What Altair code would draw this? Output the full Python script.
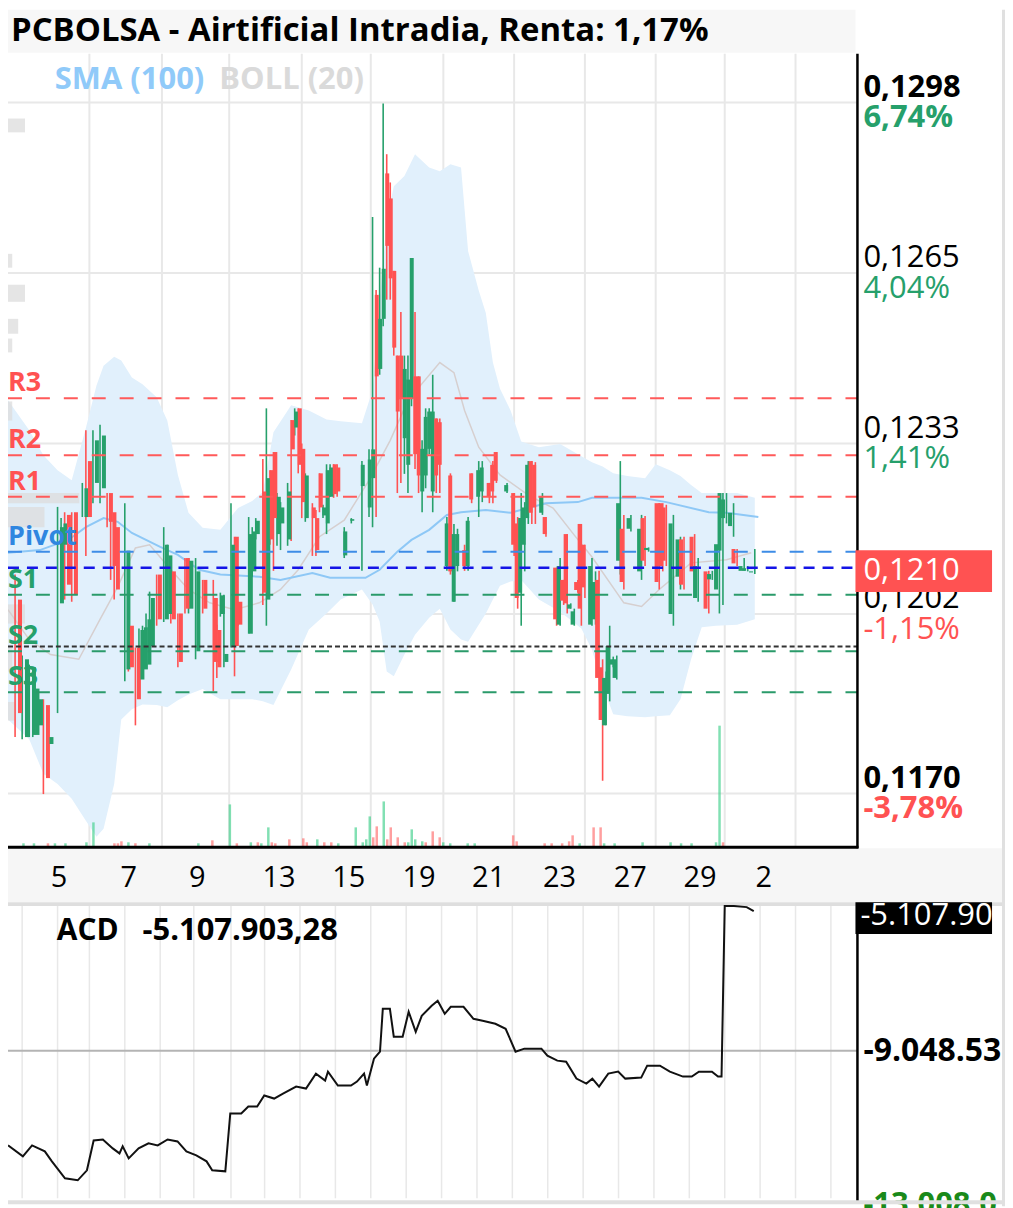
import altair as alt
import pandas as pd

FONT = "Open Sans"
GREEN = "#26a06b"
RED = "#ff5252"

title_text = "PCBOLSA - Airtificial Intradia, Renta: 1,17%"

# ---------------- candles (bar index, ~10 bars per trading day) ----------------
c_bar = [2, 4, 6, 7, 8, 10, 11, 14, 15, 16,
         18, 21, 22, 24, 26, 28, 29, 30, 33, 34,
         36, 37, 38, 39, 40, 42, 44, 45, 46, 48,
         50, 51, 53, 55, 58, 59, 60, 61, 63, 64,
         65, 68, 69, 70, 72, 73, 74, 75, 76, 77,
         79, 80, 81, 82, 83, 84, 86, 87, 88, 89,
         90, 91, 92, 93, 95, 97, 100, 102, 103, 104,
         105, 106, 107, 108, 109, 110, 111, 112, 113, 114,
         115, 116, 117, 118, 119, 120, 121, 122, 124, 125,
         126, 127, 129, 130, 131, 133, 134, 136, 137, 138,
         141, 143, 144, 145, 146, 147, 148, 149, 151, 152,
         155, 156, 157, 158, 159, 160, 161, 162, 163, 165,
         166, 167, 168, 169, 170, 171, 172, 173, 174, 176,
         179, 180, 181, 184, 185, 186, 188, 190, 191, 194,
         195, 198, 199, 201, 202, 203, 205, 206, 208, 209,
         211]
c_open = [.12047, .11789, .11793, .11793, .11811, .11849, .11776, .12040, .12150, .12206,
          .12211, .12202, .12307, .12266, .12256, .12247, .12211, .12183, .11916, .11998,
          .11957, .11897, .11916, .11925, .11960, .12094, .12010, .12020, .12100, .12021,
          .12125, .12030, .11950, .12084, .12050, .11990, .12020, .11930, .11960, .12165,
          .12043, .11983, .12100, .12170, .12250, .12047, .12290, .12324, .12170, .12190,
          .12160, .12384, .12370, .12406, .12330, .12200, .12220, .12200, .12284, .12205,
          .12190, .12240, .12301, .12295, .12130, .12195, .12260, .12220, .12275, .12619,
          .12480, .12574, .12847, .12800, .12664, .12505, .12505, .12350, .12300, .12424,
          .12466, .12466, .12250, .12280, .12330, .12250, .12387, .12380, .12110, .12280,
          .12043, .12110, .12140, .12110, .12284, .12240, .12250, .12266, .12300, .12324,
          .12250, .12247, .12190, .12060, .12150, .12200, .12307, .12300, .12210, .12202,
          .12107, .12000, .12084, .12170, .12030, .12000, .12080, .12189, .12150, .12000,
          .12010, .12084, .11920, .11811, .11870, .11925, .11900, .12120, .12180, .12180,
          .12100, .12200, .12140, .12228, .12228, .12220, .12020, .12090, .12160, .12165,
          .12050, .12100, .12085, .12066, .12139, .12200, .12185, .12142, .12101, .12101,
          .12098]
c_high = [.12094, .11942, .11925, .11894, .11875, .11860, .11793, .12221, .12200, .12211,
          .12211, .12266, .12365, .12365, .12375, .12247, .12211, .12183, .12228, .11998,
          .11957, .11993, .11998, .12021, .12062, .12094, .12183, .12150, .12105, .12021,
          .12125, .12125, .12125, .12084, .12084, .12000, .12060, .12056, .12228, .12165,
          .12043, .12202, .12183, .12200, .12311, .12406, .12290, .12324, .12247, .12230,
          .12266, .12384, .12406, .12406, .12340, .12284, .12228, .12215, .12284, .12225,
          .12301, .12301, .12301, .12301, .12183, .12200, .12307, .12329, .12765, .12628,
          .12670, .12978, .12883, .12830, .12664, .12505, .12587, .12505, .12505, .12688,
          .12587, .12466, .12346, .12406, .12406, .12469, .12387, .12387, .12202, .12284,
          .12189, .12180, .12150, .12202, .12284, .12307, .12307, .12266, .12307, .12324,
          .12266, .12247, .12202, .12247, .12230, .12307, .12307, .12305, .12247, .12202,
          .12107, .12125, .12084, .12170, .12040, .12030, .12084, .12189, .12150, .12125,
          .12100, .12101, .11935, .11912, .11998, .11940, .11942, .12307, .12206, .12206,
          .12206, .12204, .12145, .12228, .12228, .12225, .12206, .12165, .12165, .12170,
          .12125, .12101, .12101, .12202, .12247, .12247, .12228, .12142, .12125, .12110,
          .12142]
c_low = [.11789, .11785, .11789, .11789, .11809, .11682, .11766, .11834, .12120, .12047,
         .12043, .12202, .12129, .12228, .12228, .12183, .12084, .12047, .11894, .11912,
         .11811, .11890, .11905, .11920, .11957, .11998, .12005, .12020, .12002, .11920,
         .12021, .12021, .11935, .12021, .11875, .11900, .12015, .11920, .11957, .11903,
         .11998, .11983, .12090, .12160, .12037, .11998, .12150, .12101, .12148, .12140,
         .12148, .12157, .12355, .12284, .12200, .12193, .12129, .12129, .12211, .12200,
         .12170, .12240, .12238, .12240, .12125, .12190, .12101, .12202, .12183, .12202,
         .12469, .12560, .12610, .12610, .12505, .12247, .12266, .12283, .12247, .12410,
         .12292, .12247, .12211, .12256, .12320, .12211, .12247, .12247, .12101, .12094,
         .12043, .12100, .12101, .12101, .12228, .12202, .12230, .12228, .12228, .12266,
         .12247, .12129, .12030, .11998, .12100, .12189, .12189, .12189, .12206, .12165,
         .11998, .11998, .12037, .12021, .12030, .11998, .12060, .11998, .12050, .11998,
         .12000, .11875, .11707, .11811, .11856, .11920, .11897, .12094, .12066, .12175,
         .12084, .12110, .12137, .12066, .12100, .12110, .11998, .12066, .12066, .12090,
         .12043, .12021, .12084, .12021, .12037, .12190, .12165, .12110, .12101, .12100,
         .12095]
c_close = [.11834, .11935, .11920, .11880, .11860, .11712, .11789, .12183, .12190, .12075,
           .12056, .12256, .12202, .12346, .12355, .12193, .12110, .12066, .12139, .11920,
           .11860, .11990, .11995, .12010, .12050, .12010, .12150, .12130, .12010, .11930,
           .12030, .12120, .12100, .12030, .11930, .11920, .12055, .11945, .12150, .11960,
           .12000, .12170, .12175, .12195, .12060, .12275, .12160, .12200, .12240, .12220,
           .12250, .12329, .12400, .12300, .12230, .12280, .12200, .12140, .12220, .12220,
           .12290, .12295, .12245, .12250, .12175, .12198, .12300, .12310, .12329, .12466,
           .12574, .12668, .12711, .12650, .12520, .12400, .12424, .12480, .12460, .12688,
           .12320, .12280, .12330, .12390, .12400, .12400, .12280, .12300, .12190, .12100,
           .12170, .12170, .12110, .12195, .12235, .12290, .12295, .12240, .12250, .12270,
           .12262, .12150, .12050, .12200, .12220, .12300, .12210, .12220, .12240, .12170,
           .12010, .12110, .12045, .12040, .12038, .12025, .12065, .12030, .12070, .12110,
           .12080, .11900, .11821, .11900, .11960, .11935, .11935, .12228, .12080, .12200,
           .12180, .12120, .12144, .12080, .12110, .12120, .12190, .12160, .12075, .12100,
           .12110, .12030, .12095, .12151, .12247, .12235, .12210, .12115, .12110, .12106,
           .12100]

# ---------------- volume ----------------
v_bar = [3, 6, 10, 12, 15, 21, 23, 29, 30, 31,
         33, 35, 39, 53, 57, 62, 64, 68, 70, 71,
         73, 74, 75, 79, 83, 84, 87, 89, 91, 93,
         98, 100, 101, 102, 103, 104, 106, 107, 108, 110,
         112, 113, 114, 115, 117, 118, 120, 122, 123, 125,
         130, 132, 143, 144, 152, 154, 157, 159, 160, 162,
         166, 168, 169, 172, 180, 188, 191, 194, 201, 202,
         203]
v_val = [160, 160, 160, 160, 160, 200, 1000, 160, 160, 240,
         200, 160, 160, 160, 280, 1720, 160, 200, 200, 160,
         800, 200, 160, 320, 360, 200, 320, 200, 200, 160,
         800, 200, 320, 1240, 400, 840, 1840, 320, 800, 400,
         200, 200, 720, 320, 240, 200, 640, 400, 200, 160,
         160, 160, 480, 240, 160, 160, 160, 240, 480, 160,
         800, 800, 160, 160, 200, 200, 160, 160, 200, 4880,
         200]
v_dir = ["up", "up", "down", "up", "up", "up", "up", "down", "down", "down",
         "up", "down", "up", "up", "down", "up", "down", "up", "down", "up",
         "up", "down", "down", "down", "down", "down", "up", "down", "down", "up",
         "up", "up", "up", "up", "down", "down", "up", "down", "down", "down",
         "down", "up", "up", "up", "up", "down", "down", "down", "up", "up",
         "up", "up", "down", "down", "down", "down", "down", "down", "down", "up",
         "down", "down", "up", "up", "up", "up", "up", "up", "up", "up",
         "down"]

# ---------------- Bollinger band ----------------
b_bar = [0, 6, 10, 14, 18, 22, 25, 27, 30, 32, 35, 38, 42, 45, 48, 51, 55, 60, 65, 69,
         72, 75, 80, 85, 90, 94, 100, 103, 105, 107, 109, 112, 115, 119, 122, 125, 128, 130, 133, 135,
         137, 139, 142, 145, 150, 156, 162, 165, 168, 171, 175, 180, 183, 187, 190, 193, 196, 200, 206, 211]
b_upper = [.12421, .12365, .12318, .12290, .12271, .12369, .12449, .12486, .12503, .12496,
           .12464, .12451, .12427, .12383, .12281, .12210, .12182, .12178, .12219, .12232,
           .12249, .12361, .12412, .12402, .12385, .12382, .12378, .12440, .12608, .12757,
           .12823, .12842, .12883, .12858, .12851, .12864, .12858, .12701, .12627, .12585,
           .12492, .12443, .12402, .12344, .12333, .12339, .12316, .12305, .12297, .12284,
           .12279, .12275, .12301, .12290, .12279, .12262, .12247, .12247, .12247, .12238]
b_lower = [.11822, .11785, .11720, .11701, .11673, .11632, .11602, .11617, .11701, .11822,
           .11841, .11850, .11849, .11845, .11858, .11869, .11879, .11860, .11860, .11860,
           .11856, .11849, .11916, .11991, .12021, .12047, .12066, .12038, .12006, .11912,
           .11903, .11944, .11981, .12013, .12030, .11991, .11972, .11968, .12000, .12021,
           .12047, .12073, .12081, .12084, .12047, .12024, .11993, .11953, .11884, .11832,
           .11828, .11826, .11828, .11830, .11860, .11935, .11995, .11998, .12000, .12010]
m_bar = [0, 6, 12, 20, 26, 31, 36, 40, 46, 51, 57, 64, 71, 77, 82, 88, 95, 102, 108, 113,
         122, 126, 129, 133, 139, 147, 154, 160, 165, 174, 179, 184, 193, 203, 210]
m_val = [.12028, .11972, .11944, .11935, .12010, .12071, .12144, .12150, .12103, .12066,
         .12041, .12028, .12041, .12066, .12103, .12165, .12196, .12271, .12346, .12421,
         .12492, .12473, .12402, .12333, .12281, .12243, .12219, .12168, .12127, .12041,
         .12034, .12066, .12116, .12122, .12135]

# ---------------- SMA (100) ----------------
s_bar = [0, 9, 17, 22, 27, 31, 35, 43, 48, 54, 60, 71, 77, 86, 91, 101, 105, 110, 114, 119,
         124, 128, 135, 142, 152, 161, 165, 179, 186, 198, 203, 212]
s_val = [.12135, .12140, .12159, .12183, .12200, .12193, .12172, .12146, .12131, .12103,
         .12094, .12090, .12084, .12097, .12088, .12088, .12103, .12137, .12159, .12178,
         .12206, .12211, .12215, .12210, .12228, .12230, .12238, .12238, .12230, .12211,
         .12210, .12202]

# ---------------- volume-by-price profile (left edge) ----------------
p_top = [.12950, .12696, .12638, .12574, .12537, .12419, .12247, .12221, .12038, .11957, .11855]
p_bot = [.12924, .12670, .12606, .12546, .12511, .12383, .12228, .12183, .12002, .11912, .11820]
p_vol = [20, 5, 20, 12, 5, 5, 84, 43, 20, 5, 8]

# ---------------- pivot levels ----------------
lvl_names = ["R3", "R2", "R1", "Pivot", "S1", "S2", "S3"]
lvl_vals = [0.12425, 0.12318, 0.12240, 0.12137, 0.12056, 0.11950, 0.11873]
lvl_kind = ["R", "R", "R", "P", "S", "S", "S"]
last_line = 0.12107
black_line = 0.11959
last_price_label = "0,1210"

# ---------------- axes ----------------
grid_price = [0.1298, 0.1266, 0.1234, 0.1202, 0.11683]
price_labels = ["0,1298", "0,1265", "0,1233", "0,1202", "0,1170"]
pct_labels = ["6,74%", "4,04%", "1,41%", "-1,15%", "-3,78%"]
label_bold = [True, False, False, False, True]
day_labels = ["5", "7", "9", "13", "15", "19", "21", "23", "27", "29", "2"]
day_pos = [14.4, 34.1, 53.5, 76.6, 96.3, 116.1, 135.8, 155.8, 175.8, 195.5, 213.5]
grid_x_main = [23, 43.5, 62.5, 83, 102.5, 123, 143, 163, 183, 202.5, 222.5]
grid_x_acd = [4, 14, 23, 33, 43, 52.5, 63, 72.5, 82.5, 92.5, 102.5, 112.5, 122.5, 132.5,
              142.5, 152.5, 162.5, 172.5, 182.5, 192.5, 202.5, 212.5, 222.5, 232.5]

# ---------------- ACD (millions) ----------------
acd_bar = [0, 4.2, 6.8, 10.4, 12.4, 16.1, 19.7, 22.3, 24.2, 26.8,
           29.6, 31.5, 32.4, 34.1, 36.9, 39.7, 42.3, 45.1, 47.9, 50.4,
           53.2, 56.1, 57.7, 61.4, 62.8, 65.9, 67.9, 70.4, 72.4, 75.2,
           77.7, 81.4, 84.2, 87.0, 89.6, 90.4, 93.2, 96.9, 98.6, 100.6,
           101.4, 103.4, 105.1, 105.9, 107.9, 109.0, 111.5, 113.2, 115.2, 116.9,
           119.7, 121.4, 123.4, 125.1, 128.7, 131.5, 134.1, 137.7, 140.6, 143.4,
           145.9, 150.7, 152.4, 155.2, 157.7, 160.6, 163.4, 165.1, 167.0, 169.6,
           172.4, 174.4, 178.9, 180.6, 184.2, 187.0, 190.7, 193.2, 195.2, 198.9,
           200.6, 201.6, 202.5, 205.1, 208.7, 210.7]
acd_val = [-11.722, -12.032, -11.722, -11.891, -12.173, -12.651, -12.708, -12.426, -11.582, -11.554,
           -11.807, -11.948, -11.751, -12.088, -11.807, -11.666, -11.722, -11.554, -11.610, -11.891,
           -12.004, -12.173, -12.426, -12.454, -10.822, -10.822, -10.625, -10.625, -10.315, -10.400,
           -10.259, -10.062, -10.118, -9.696, -9.893, -9.640, -10.034, -10.034, -9.921, -9.696,
           -10.034, -9.274, -9.077, -7.866, -7.866, -8.654, -8.654, -7.951, -8.514, -8.063,
           -7.782, -7.641, -8.007, -7.810, -7.810, -8.148, -8.204, -8.289, -8.429, -9.077,
           -8.992, -8.992, -9.189, -9.330, -9.358, -9.837, -9.977, -9.837, -10.062, -9.696,
           -9.640, -9.837, -9.808, -9.471, -9.471, -9.640, -9.780, -9.780, -9.640, -9.640,
           -9.780, -9.780, -4.967, -4.967, -4.995, -5.108]
acd_mid = -9.04853
acd_top = -5.107903
acd_title = "ACD"
acd_value_text = "-5.107.903,28"
acd_mid_text = "-9.048.53"
acd_top_text = "-5.107.90"
acd_low_text = "-13.008.0"

# ======================= chart =======================
W, H = 1000, 1210
XR = [0, 852]


def X(field):
    return alt.X(field, type="quantitative",
                 scale=alt.Scale(domain=[0, 240], range=XR, nice=False, zero=False), axis=None)


def YP(field):
    return alt.Y(field, type="quantitative",
                 scale=alt.Scale(domain=[0.1202, 0.1298], range=[606, 93], nice=False, zero=False),
                 axis=None)


def YA(field):
    return alt.Y(field, type="quantitative",
                 scale=alt.Scale(domain=[acd_mid, acd_top], range=[1044, 904], nice=False, zero=False),
                 axis=None)


one = pd.DataFrame({"a": [0]})


def box(x0, x1, y0, y1, color):
    return alt.Chart(one).mark_rect(color=color).encode(
        x=alt.value(x0), x2=alt.value(x1), y=alt.value(y0), y2=alt.value(y1))


def vline(x, y0, y1, color, w):
    return alt.Chart(one).mark_rule(color=color, strokeWidth=w).encode(
        x=alt.value(x), y=alt.value(y0), y2=alt.value(y1))


def hline(y, x0, x1, color, w):
    return alt.Chart(one).mark_rule(color=color, strokeWidth=w).encode(
        y=alt.value(y), x=alt.value(x0), x2=alt.value(x1))


def label(txt, x, y, size, color, weight="normal", align="left"):
    return alt.Chart(one).mark_text(text=txt, font=FONT, fontSize=size, fontWeight=weight,
                                    color=color, align=align, baseline="middle").encode(
        x=alt.value(x), y=alt.value(y))


layers = []

# backgrounds
layers.append(box(0, 850, 0, 43, "#f7f7f7"))
layers.append(box(0, 1000, 841, 895, "#f6f6f6"))
layers.append(hline(897, 0, 1000, "#dedede", 4))

# main grid
gx = pd.DataFrame({"b": grid_x_main})
layers.append(alt.Chart(gx).mark_rule(color="#e8e8e8", strokeWidth=2).encode(
    x=X("b"), y=alt.value(44), y2=alt.value(840)))
gp = pd.DataFrame({"p": grid_price})
layers.append(alt.Chart(gp).mark_rule(color="#e8e8e8", strokeWidth=2).encode(
    y=YP("p"), x=alt.value(0), x2=alt.value(852)))

# Bollinger band
bd = pd.DataFrame({"b": b_bar, "u": b_upper, "l": b_lower})
layers.append(alt.Chart(bd).mark_area(color="#e1f0fc", opacity=1).encode(
    x=X("b"), y=YP("u"), y2=alt.Y2("l")))

# volume profile
pf = pd.DataFrame({"t": p_top, "bt": p_bot, "v": p_vol})
layers.append(alt.Chart(pf).mark_rect(color="#dcdcdc", opacity=0.75).encode(
    x=alt.X("v", type="quantitative",
            scale=alt.Scale(domain=[0, 1000], range=XR, nice=False, zero=False), axis=None),
    x2=alt.value(0),
    y=YP("t"), y2=alt.Y2("bt")))

# BOLL middle and SMA
md = pd.DataFrame({"b": m_bar, "v": m_val})
layers.append(alt.Chart(md).mark_line(color="#d6cfcf", strokeWidth=1.5).encode(x=X("b"), y=YP("v")))
sd = pd.DataFrame({"b": s_bar, "v": s_val})
layers.append(alt.Chart(sd).mark_line(color="#8ec8f6", strokeWidth=2).encode(x=X("b"), y=YP("v")))

# volume bars
vd = pd.DataFrame({"b": v_bar, "v": v_val, "d": v_dir})
layers.append(alt.Chart(vd).mark_bar(size=2.5, opacity=0.65).encode(
    x=X("b"),
    y=alt.Y("v", type="quantitative",
            scale=alt.Scale(domain=[0, 31840], range=[840, 44], nice=False), axis=None),
    color=alt.Color("d:N", scale=alt.Scale(domain=["up", "down"], range=["#3fcf8a", "#ff6b6b"]),
                    legend=None)))

# candles
cd = pd.DataFrame({"b": c_bar, "o": c_open, "h": c_high, "l": c_low, "c": c_close})
cd["hi"] = cd[["h", "o", "c"]].max(axis=1)
cd["lo"] = cd[["l", "o", "c"]].min(axis=1)
cd["d"] = ["up" if c >= o else "down" for o, c in zip(cd["o"], cd["c"])]
ccol = alt.Color("d:N", scale=alt.Scale(domain=["up", "down"], range=[GREEN, RED]), legend=None)
layers.append(alt.Chart(cd).mark_rule(strokeWidth=1.6).encode(
    x=X("b"), y=YP("lo"), y2=alt.Y2("hi"), color=ccol))
layers.append(alt.Chart(cd).mark_bar(size=4).encode(
    x=X("b"), y=YP("o"), y2=alt.Y2("c"), color=ccol))

# pivot lines
lv = pd.DataFrame({"n": lvl_names, "v": lvl_vals, "k": lvl_kind})
styles = {"R": "#ff5a5a", "P": "#3d8ce6", "S": "#2a9a6a"}
for k, col in styles.items():
    layers.append(alt.Chart(lv[lv.k == k]).mark_rule(color=col, strokeWidth=2, strokeDash=[14, 14]).encode(
        y=YP("v"), x=alt.value(0), x2=alt.value(852)))
layers.append(alt.Chart(pd.DataFrame({"v": [last_line]})).mark_rule(
    color="#1414e6", strokeWidth=2.5, strokeDash=[11, 8]).encode(y=YP("v"), x=alt.value(0), x2=alt.value(852)))
layers.append(alt.Chart(pd.DataFrame({"v": [black_line]})).mark_rule(
    color="#333333", strokeWidth=2, strokeDash=[5, 3]).encode(y=YP("v"), x=alt.value(0), x2=alt.value(852)))
lab_colors = {"R": "#ff5252", "P": "#2f86e0", "S": "#26a06b"}
for k, col in lab_colors.items():
    layers.append(alt.Chart(lv[lv.k == k]).mark_text(
        font=FONT, fontSize=27, fontWeight="bold", color=col, align="left", baseline="middle", dy=-15).encode(
        y=YP("v"), x=alt.value(0), text="n:N"))

# axis lines
layers.append(vline(852, 44, 841, "#000000", 2.5))
layers.append(hline(840, 0, 853, "#000000", 3))

# right price labels
rl = pd.DataFrame({"p": grid_price, "t": price_labels, "q": pct_labels, "bold": label_bold})
rl["qc"] = ["neg" if s.startswith("-") else "pos" for s in pct_labels]
for bold in [True, False]:
    sub = rl[rl.bold == bold]
    wgt = "bold" if bold else "normal"
    layers.append(alt.Chart(sub).mark_text(font=FONT, fontSize=31, fontWeight=wgt, color="#000000",
                                           align="left", baseline="middle", dy=-15).encode(
        x=alt.value(858), y=YP("p"), text="t:N"))
    layers.append(alt.Chart(sub).mark_text(font=FONT, fontSize=31, fontWeight=wgt,
                                           align="left", baseline="middle", dy=16).encode(
        x=alt.value(858), y=YP("p"), text="q:N",
        color=alt.Color("qc:N", scale=alt.Scale(domain=["pos", "neg"], range=["#26a06b", "#ff5252"]),
                        legend=None)))

# current price box
layers.append(box(850, 987, 542, 584, "#ff5252"))
layers.append(alt.Chart(pd.DataFrame({"v": [c_close[-1]], "t": [last_price_label]})).mark_text(
    font=FONT, fontSize=31, color="#ffffff", align="left", baseline="middle").encode(
    x=alt.value(858), y=YP("v"), text="t:N"))

# title & legend
layers.append(label(title_text, 3, 21, 33, "#000000", "bold"))
layers.append(label("SMA (100)", 47, 70, 31, "#90caf9", "bold"))
layers.append(label("BOLL (20)", 212, 70, 31, "#dadada", "bold"))

# x labels
dl = pd.DataFrame({"b": day_pos, "t": day_labels})
layers.append(alt.Chart(dl).mark_text(font=FONT, fontSize=29, color="#000000", align="center",
                                      baseline="middle").encode(x=X("b"), y=alt.value(871), text="t:N"))

# ACD panel
ga = pd.DataFrame({"b": grid_x_acd})
layers.append(alt.Chart(ga).mark_rule(color="#e8e8e8", strokeWidth=1.5).encode(
    x=X("b"), y=alt.value(899), y2=alt.value(1192)))
layers.append(alt.Chart(pd.DataFrame({"v": [acd_mid]})).mark_rule(color="#b4b4b4", strokeWidth=2).encode(
    y=YA("v"), x=alt.value(0), x2=alt.value(852)))
ad = pd.DataFrame({"b": acd_bar, "v": acd_val})
layers.append(alt.Chart(ad).mark_line(color="#111111", strokeWidth=2).encode(x=X("b"), y=YA("v")))
layers.append(vline(852, 899, 1195, "#000000", 2.5))
layers.append(label(acd_title, 49, 924, 30, "#000000", "bold"))
layers.append(label(acd_value_text, 135, 924, 31, "#000000", "bold"))
layers.append(alt.Chart(pd.DataFrame({"v": [acd_mid], "t": [acd_mid_text]})).mark_text(
    font=FONT, fontSize=32, fontWeight="bold", color="#000000", align="left", baseline="middle").encode(
    x=alt.value(858), y=YA("v"), text="t:N"))
layers.append(box(850, 987, 895, 927, "#000000"))
layers.append(label(acd_top_text, 855, 909, 31, "#ffffff"))
layers.append(alt.Chart(one).mark_text(text=acd_low_text, font=FONT, fontSize=31, fontWeight="bold",
                                       color="#1a8a1a", align="left", baseline="top").encode(
    x=alt.value(858), y=alt.value(1184)))

# frame
layers.append(vline(998.5, 0, 1200, "#e0e0e0", 3))
layers.append(hline(1196, 0, 1000, "#e0e0e0", 4))

chart = alt.layer(*layers).resolve_scale(x="independent", y="independent", color="independent").properties(
    width=W, height=H, padding=0, autosize=alt.AutoSizeParams(type="none"),
    background="#ffffff").configure_view(stroke=None)

chart.save("out.html", embed_options={"renderer": "svg", "actions": False})
